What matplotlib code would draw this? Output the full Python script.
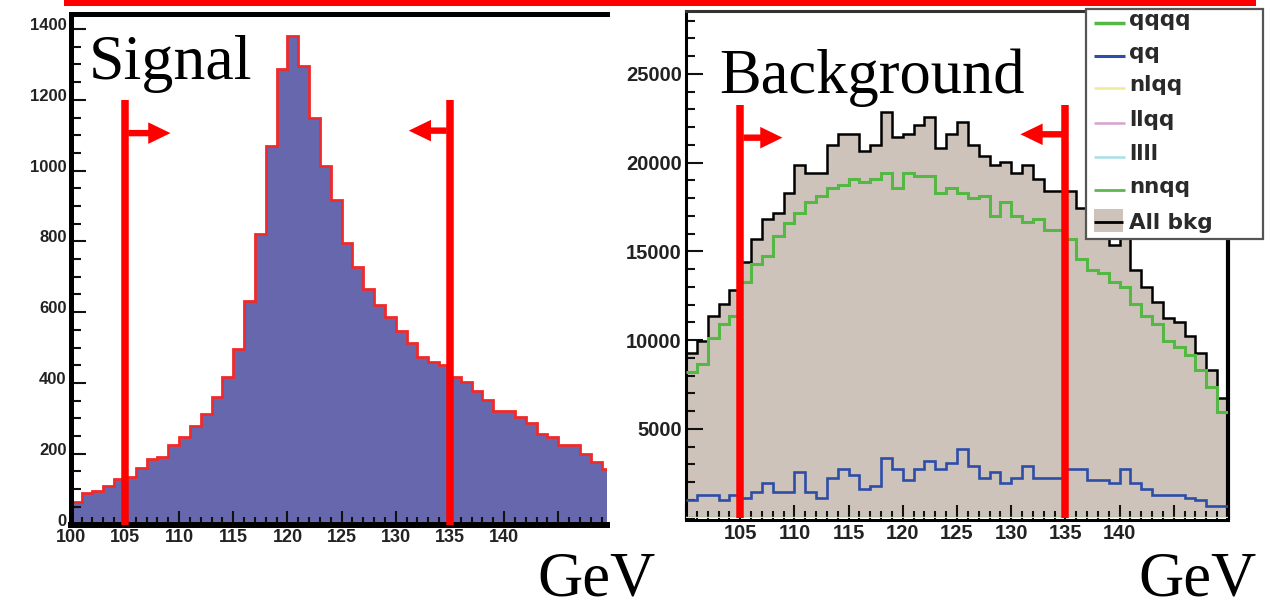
import numpy as np
import matplotlib
matplotlib.use('Agg')
import matplotlib.pyplot as plt
import matplotlib.transforms as mtransforms
from matplotlib.patches import Rectangle, FancyArrowPatch
from matplotlib.ticker import MultipleLocator

plt.rcParams['font.family'] = ['DejaVu Sans']

# invariant mass bins, 1 GeV wide
edges = np.arange(100, 151, 1)

signal = [63, 88, 95, 110, 129, 135, 159, 184, 192, 224,
          248, 279, 312, 359, 416, 496, 632, 820, 1070, 1287,
          1380, 1296, 1148, 1014, 917, 795, 728, 665, 620, 587,
          548, 514, 472, 458, 451, 416, 402, 378, 352, 322,
          322, 303, 288, 256, 248, 225, 225, 199, 176, 157]

all_bkg = [9280, 9980, 11370, 12040, 12830, 14430, 15710, 16830, 17150, 18280,
           19870, 19440, 19440, 21000, 21620, 21620, 20660, 21000, 22880, 21470,
           21620, 22130, 22600, 20820, 21620, 22280, 21000, 20380, 19870, 20060,
           19410, 19870, 19070, 18430, 18430, 18430, 17450, 16150, 15950, 15370,
           15800, 13960, 13020, 12170, 11240, 11050, 10260, 9300, 8320, 6730]

qqqq = [8230, 8660, 10130, 10920, 11370, 13300, 14300, 14760, 15890, 16620,
        17150, 17810, 18130, 18600, 18750, 19090, 18900, 19090, 19440, 18560,
        19440, 19250, 19250, 18280, 18600, 18280, 18000, 18130, 17000, 17780,
        17000, 16680, 16820, 16210, 16210, 15690, 14560, 13960, 13770, 13270,
        12980, 12040, 11380, 10920, 9980, 9640, 9170, 8320, 7350, 5940]

qq = [1000, 1280, 1280, 1000, 1280, 1130, 1470, 1980, 1470, 1470,
      2590, 1470, 1130, 2260, 2730, 2410, 1620, 1790, 3350, 2730,
      2130, 2730, 3210, 2730, 3070, 3870, 2920, 2260, 2590, 1980,
      2260, 2930, 2260, 2260, 2260, 2730, 2730, 2130, 2130, 1980,
      2730, 1980, 1620, 1280, 1280, 1280, 1130, 1000, 660, 660]

# the small channels sit on the baseline
nlqq = [0] * 50
llqq = [0] * 50
llll = [0] * 50
nnqq = [0] * 50

bkg_names = ['qqqq', 'qq', 'nlqq', 'llqq', 'llll', 'nnqq']
bkg_values = [qqqq, qq, nlqq, llqq, llll, nnqq]
bkg_colors = ['#55b845', '#2d4ea6', '#f0eb9c', '#d6a3cf', '#a9dfe8', '#5fb552']
bkg_widths = [2.2, 1.9, 1.5, 1.5, 1.5, 1.7]

# mass window cuts
cut_lo, cut_hi = 105, 135

W, H = 1265, 600
fig = plt.figure(figsize=(W / 100, H / 100), dpi=100)
fig.patch.set_facecolor('white')


def style_axis(ax, ylen, xlen, ysize, xsize):
    ax.tick_params(which='both', direction='in', top=False, right=False,
                   color='#111111')
    ax.tick_params(axis='y', which='major', length=ylen[0], width=1.5, pad=3,
                   labelsize=ysize)
    ax.tick_params(axis='y', which='minor', length=ylen[1], width=1.5)
    ax.tick_params(axis='x', which='major', length=xlen[0], width=1.5, pad=3,
                   labelsize=xsize)
    ax.tick_params(axis='x', which='minor', length=xlen[1], width=1.5)
    for lab in ax.get_xticklabels() + ax.get_yticklabels():
        lab.set_fontfamily('Liberation Sans')
        lab.set_fontweight('bold')
        lab.set_color('#222222')


# ---- signal ----
ax1 = fig.add_axes([70.8 / W, (H - 524.5) / H, (607 - 70.8) / W, (524.5 - 13.5) / H])
ax1.stairs(signal, edges, fill=True, color='#6667ad', zorder=1)
ax1.stairs(signal, edges, color='#f02a2a', lw=2.0, baseline=None, zorder=2)
ax1.set_xlim(100, 149.5)
ax1.set_ylim(0, 1444)
ax1.yaxis.set_major_locator(MultipleLocator(200))
ax1.yaxis.set_minor_locator(MultipleLocator(50))
ax1.set_xticks(np.arange(100, 150, 5))
ax1.set_xticklabels([str(v) if v <= 140 else '' for v in range(100, 150, 5)])
ax1.xaxis.set_minor_locator(MultipleLocator(1))
for s in ['left', 'top']:
    ax1.spines[s].set_linewidth(3.6)
ax1.spines['bottom'].set_linewidth(4.3)
ax1.spines['right'].set_visible(False)
style_axis(ax1, (10.8, 7.2), (10, 5.8), 12, 13)

sig_cut_top = 1199
ax1.vlines([cut_lo, cut_hi], 0, sig_cut_top, colors='red', lw=5.4, zorder=5)
arrow = 'simple,head_length=16,head_width=15.5,tail_width=4.6'
ax1.add_patch(FancyArrowPatch((cut_lo + 0.3, 1106), (109.2, 1106), arrowstyle=arrow,
                              mutation_scale=1, color='red', lw=0,
                              shrinkA=0, shrinkB=0, zorder=6))
ax1.add_patch(FancyArrowPatch((cut_hi - 0.3, 1113), (131.2, 1113), arrowstyle=arrow,
                              mutation_scale=1, color='red', lw=0,
                              shrinkA=0, shrinkB=0, zorder=6))

# ---- background ----
ax2 = fig.add_axes([686 / W, (H - 517.75) / H, (1228 - 686) / W, (517.75 - 10.5) / H])
ax2.stairs(all_bkg, edges, fill=True, color='#cdc3ba', zorder=1)
ax2.stairs(all_bkg, edges, color='black', lw=1.8, baseline=None, zorder=2)
for name, vals, col, lw in reversed(list(zip(bkg_names, bkg_values, bkg_colors, bkg_widths))):
    ax2.stairs(vals, edges, color=col, lw=lw, baseline=None, zorder=3)
ax2.set_xlim(100, 150)
ax2.set_ylim(0, 28577)
ax2.set_yticks(np.arange(5000, 26000, 5000))
ax2.yaxis.set_minor_locator(MultipleLocator(1000))
ax2.set_xticks(np.arange(100, 151, 5))
ax2.set_xticklabels([str(v) if 105 <= v <= 140 else '' for v in range(100, 151, 5)])
ax2.xaxis.set_minor_locator(MultipleLocator(1))
ax2.spines['left'].set_linewidth(2.2)
ax2.spines['top'].set_linewidth(2.2)
ax2.spines['top'].set_color('#333333')
ax2.spines['right'].set_linewidth(3.0)
ax2.spines['bottom'].set_linewidth(2.2)
ax2.spines['bottom'].set_position(('outward', 1.5))
style_axis(ax2, (12, 6.5), (10.8, 6.5), 14.5, 14.5)

bkg_cut_top = 23254
ax2.vlines([cut_lo, cut_hi], 0, bkg_cut_top, colors='red', lw=5.4, zorder=5)
ax2.add_patch(FancyArrowPatch((cut_lo + 0.3, 21412), (108.9, 21412), arrowstyle=arrow,
                              mutation_scale=1, color='red', lw=0,
                              shrinkA=0, shrinkB=0, zorder=6))
ax2.add_patch(FancyArrowPatch((cut_hi - 0.3, 21603), (130.85, 21603), arrowstyle=arrow,
                              mutation_scale=1, color='red', lw=0,
                              shrinkA=0, shrinkB=0, zorder=6))

# ---- labels, legend and header strip drawn in pixel space ----
ov = fig.add_axes([0, 0, 1, 1])
ov.set_xlim(0, W)
ov.set_ylim(H, 0)
ov.set_axis_off()

ov.add_patch(Rectangle((64, -2), 1192, 8, color='#ff0000', lw=0))

serif = dict(family='Liberation Serif', color='black')
ov.text(89, 79, 'Signal', fontsize=46, va='baseline', ha='left', **serif)
ov.text(719, 93, 'Background', fontsize=45, va='baseline', ha='left', **serif)
ov.text(537, 595, 'GeV', fontsize=45, va='baseline', ha='left', **serif)
ov.text(1138, 595, 'GeV', fontsize=45, va='baseline', ha='left', **serif)

ov.add_patch(Rectangle((1086, 9), 177, 230, facecolor='white', edgecolor='#555555', lw=1.6))
rows_y = [23, 56, 88, 123, 157, 190]
for name, col, lw, y in zip(bkg_names, bkg_colors, bkg_widths, rows_y):
    ov.plot([1094, 1125], [y, y], color=col, lw=lw + 0.3, solid_capstyle='butt')
    ov.text(1129, y + 3, name, fontsize=15.5, fontweight='bold', color='#2a2a2a',
            va='baseline', ha='left')
ov.add_patch(Rectangle((1094, 209), 29, 23, color='#cdc3ba', lw=0))
ov.plot([1094, 1123], [222, 222], color='black', lw=2.0, solid_capstyle='butt')
ov.text(1129, 229, 'All bkg', fontsize=15.5, fontweight='bold', color='#2a2a2a',
        va='baseline', ha='left')

# lift the signal y labels a few pixels so "0" clears the x labels
fig.canvas.draw()
lift = mtransforms.ScaledTranslation(0, 5 / 100, fig.dpi_scale_trans)
for tick in ax1.yaxis.get_major_ticks():
    tick.label1.set_transform(tick.label1.get_transform() + lift)

fig.savefig('out.png', dpi=100)
